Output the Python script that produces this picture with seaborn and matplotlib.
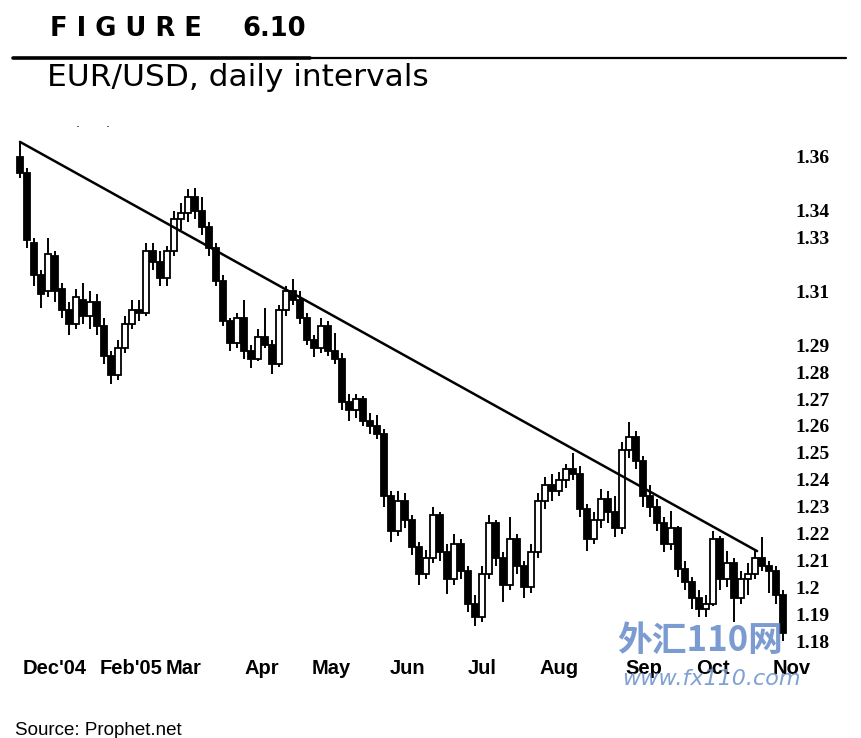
import matplotlib
matplotlib.use("Agg")
import numpy as np
import pandas as pd
from matplotlib import pyplot as plt
from matplotlib.lines import Line2D
import seaborn as sns

# EUR/USD candles, Dec'04 - Nov'05 (~2 sessions per candle)
opens = [1.360, 1.354, 1.328, 1.316, 1.310, 1.323, 1.311, 1.303, 1.298, 1.307,
         1.301, 1.306, 1.297, 1.286, 1.279, 1.289, 1.298, 1.303, 1.302, 1.325,
         1.321, 1.315, 1.325, 1.337, 1.339, 1.345, 1.340, 1.334, 1.326, 1.314,
         1.299, 1.291, 1.300, 1.288, 1.285, 1.293, 1.290, 1.283, 1.303, 1.310,
         1.307, 1.300, 1.292, 1.289, 1.297, 1.288, 1.285, 1.269, 1.266, 1.270,
         1.262, 1.260, 1.257, 1.234, 1.221, 1.232, 1.225, 1.215, 1.205, 1.211,
         1.227, 1.213, 1.203, 1.216, 1.206, 1.194, 1.189, 1.205, 1.224, 1.211,
         1.201, 1.218, 1.208, 1.200, 1.213, 1.232, 1.238, 1.236, 1.240, 1.244,
         1.242, 1.229, 1.218, 1.225, 1.233, 1.228, 1.222, 1.251, 1.256, 1.247,
         1.234, 1.230, 1.224, 1.216, 1.222, 1.207, 1.202, 1.196, 1.192, 1.194,
         1.218, 1.203, 1.209, 1.196, 1.203, 1.205, 1.211, 1.208, 1.206, 1.197]
highs = [1.3656, 1.356, 1.330, 1.318, 1.330, 1.325, 1.313, 1.306, 1.311, 1.313,
         1.310, 1.309, 1.300, 1.288, 1.292, 1.301, 1.307, 1.307, 1.328, 1.328,
         1.325, 1.327, 1.340, 1.343, 1.348, 1.3484, 1.345, 1.336, 1.328, 1.316,
         1.300, 1.302, 1.307, 1.290, 1.296, 1.304, 1.292, 1.305, 1.312, 1.3148,
         1.310, 1.302, 1.294, 1.300, 1.299, 1.2945, 1.287, 1.272, 1.272, 1.271,
         1.265, 1.264, 1.259, 1.236, 1.2357, 1.235, 1.227, 1.217, 1.214, 1.230,
         1.228, 1.216, 1.220, 1.218, 1.208, 1.197, 1.208, 1.2268, 1.225, 1.213,
         1.2261, 1.220, 1.210, 1.216, 1.235, 1.241, 1.242, 1.243, 1.246, 1.250,
         1.245, 1.231, 1.228, 1.2365, 1.236, 1.234, 1.254, 1.2615, 1.258, 1.249,
         1.238, 1.233, 1.226, 1.2283, 1.223, 1.210, 1.204, 1.199, 1.197, 1.2208,
         1.219, 1.2134, 1.211, 1.206, 1.209, 1.214, 1.2186, 1.210, 1.208, 1.199]
lows = [1.352, 1.326, 1.312, 1.304, 1.308, 1.306, 1.300, 1.294, 1.296, 1.298,
        1.296, 1.294, 1.283, 1.2757, 1.277, 1.287, 1.296, 1.299, 1.301, 1.318,
        1.312, 1.312, 1.323, 1.333, 1.336, 1.337, 1.331, 1.323, 1.312, 1.297,
        1.288, 1.289, 1.285, 1.2816, 1.284, 1.289, 1.2794, 1.282, 1.301, 1.305,
        1.298, 1.290, 1.2855, 1.287, 1.286, 1.283, 1.266, 1.262, 1.263, 1.260,
        1.257, 1.255, 1.230, 1.217, 1.219, 1.222, 1.212, 1.201, 1.203, 1.209,
        1.210, 1.1976, 1.201, 1.203, 1.191, 1.1855, 1.187, 1.203, 1.208, 1.1947,
        1.199, 1.205, 1.1962, 1.198, 1.211, 1.229, 1.232, 1.234, 1.237, 1.240,
        1.226, 1.2134, 1.216, 1.222, 1.224, 1.2186, 1.220, 1.248, 1.244, 1.230,
        1.226, 1.221, 1.213, 1.214, 1.204, 1.199, 1.192, 1.189, 1.189, 1.193,
        1.199, 1.200, 1.1872, 1.194, 1.197, 1.203, 1.206, 1.198, 1.194, 1.180]
closes = [1.354, 1.329, 1.316, 1.309, 1.324, 1.310, 1.303, 1.298, 1.308, 1.301,
          1.306, 1.297, 1.286, 1.279, 1.289, 1.298, 1.303, 1.302, 1.325, 1.321,
          1.315, 1.325, 1.337, 1.339, 1.345, 1.340, 1.334, 1.326, 1.314, 1.299,
          1.291, 1.300, 1.288, 1.285, 1.293, 1.290, 1.283, 1.303, 1.310, 1.307,
          1.300, 1.292, 1.289, 1.297, 1.288, 1.285, 1.269, 1.266, 1.270, 1.262,
          1.260, 1.257, 1.234, 1.221, 1.232, 1.225, 1.215, 1.205, 1.211, 1.227,
          1.213, 1.203, 1.216, 1.206, 1.194, 1.189, 1.205, 1.224, 1.211, 1.201,
          1.218, 1.208, 1.200, 1.213, 1.232, 1.238, 1.236, 1.240, 1.244, 1.242,
          1.229, 1.218, 1.225, 1.233, 1.228, 1.222, 1.251, 1.256, 1.247, 1.234,
          1.230, 1.224, 1.216, 1.222, 1.207, 1.202, 1.196, 1.192, 1.194, 1.218,
          1.203, 1.209, 1.196, 1.203, 1.205, 1.211, 1.208, 1.206, 1.197, 1.183]

# trendline drawn on the chart (bar index, price)
trend_x = [0, 105.3]
trend_y = [1.3656, 1.2135]

month_labels = ["Dec'04", "Feb'05", "Mar", "Apr", "May", "Jun", "Jul",
                "Aug", "Sep", "Oct", "Nov"]
month_pos = [4.9, 15.9, 23.3, 34.6, 44.4, 55.3, 66.0, 77.0, 89.1, 99.0, 110.3]
price_ticks = [1.36, 1.34, 1.33, 1.31, 1.29, 1.28, 1.27, 1.26, 1.25, 1.24,
               1.23, 1.22, 1.21, 1.20, 1.19, 1.18]
price_labels = ["1.36", "1.34", "1.33", "1.31", "1.29", "1.28", "1.27", "1.26",
                "1.25", "1.24", "1.23", "1.22", "1.21", "1.2", "1.19", "1.18"]

df = pd.DataFrame({"open": opens, "high": highs, "low": lows, "close": closes})
df["bar"] = np.arange(len(df))
df["up"] = df["close"] >= df["open"]
df["bottom"] = df[["open", "close"]].min(axis=1)
df["body"] = (df["close"] - df["open"]).abs()

sns.set_style("white")
plt.rcParams["text.color"] = "black"
plt.rcParams["xtick.color"] = "black"
plt.rcParams["ytick.color"] = "black"

fig = plt.figure(figsize=(8.62, 7.38), dpi=100)
ax = fig.add_axes([15 / 862, 1 - 645 / 738, 778 / 862, 505 / 738])

# wicks then bodies
ax.vlines(df["bar"], df["low"], df["high"], color="black", lw=1.4, zorder=2)
ax.bar(df["bar"], df["body"], bottom=df["bottom"], width=0.78,
       color=np.where(df["up"], "white", "black"), edgecolor="black",
       linewidth=1.3, zorder=3)

sns.lineplot(x=trend_x, y=trend_y, color="black", lw=1.8, ax=ax, zorder=4)

ax.set_xlim(-0.714, 110.43)
ax.set_ylim(1.1786, 1.3663)
for s in ax.spines.values():
    s.set_visible(False)

ax.set_xticks(month_pos)
ax.set_xticklabels(month_labels, family="Liberation Sans", fontsize=14.5,
                   fontweight="bold", color="black")
ax.tick_params(axis="x", length=0, pad=10)

ax.yaxis.tick_right()
ax.set_yticks(price_ticks)
ax.set_yticklabels(price_labels, family="Liberation Serif", fontsize=14,
                   fontweight="bold", color="black")
ax.tick_params(axis="y", length=0, pad=1.5)
ax.grid(False)

# header
fig.text(50 / 862, 1 - 36 / 738, "F I G U R E", fontsize=18.5,
         fontweight="bold", family="DejaVu Sans", va="baseline", color="black")
fig.text(242 / 862, 1 - 36 / 738, "6.10", fontsize=18.5,
         fontweight="bold", family="DejaVu Sans", va="baseline", color="black")
fig.add_artist(Line2D([13 / 862, 310 / 862], [1 - 58 / 738] * 2, color="black", lw=2.6))
fig.add_artist(Line2D([310 / 862, 846 / 862], [1 - 58 / 738] * 2, color="black", lw=1.6))
fig.text(47 / 862, 1 - 86 / 738, "EUR/USD, daily intervals", fontsize=22.5,
         family="DejaVu Sans", va="baseline", color="black")
fig.text(78 / 862, 1 - 127 / 738, ".", fontsize=9, ha="center", color="black")
fig.text(108 / 862, 1 - 127 / 738, ".", fontsize=9, ha="center", color="black")

fig.text(15 / 862, 1 - 735 / 738, "Source: Prophet.net", family="Liberation Sans",
         fontsize=13.5, va="baseline", color="black")

# watermark
fig.text(700 / 862, 1 - 640 / 738, "外汇110网", family=["Noto Sans CJK SC", "DejaVu Sans"],
         fontsize=25, fontweight="bold", color="#5a82c6", alpha=0.8,
         ha="center", va="center", zorder=10)
fig.text(711 / 862, 1 - 679 / 738, "www.fx110.com", family="DejaVu Sans",
         fontsize=16, style="italic", color="#6a90cc", alpha=0.85,
         ha="center", va="center", zorder=10)

fig.savefig("out.png", dpi=100)
